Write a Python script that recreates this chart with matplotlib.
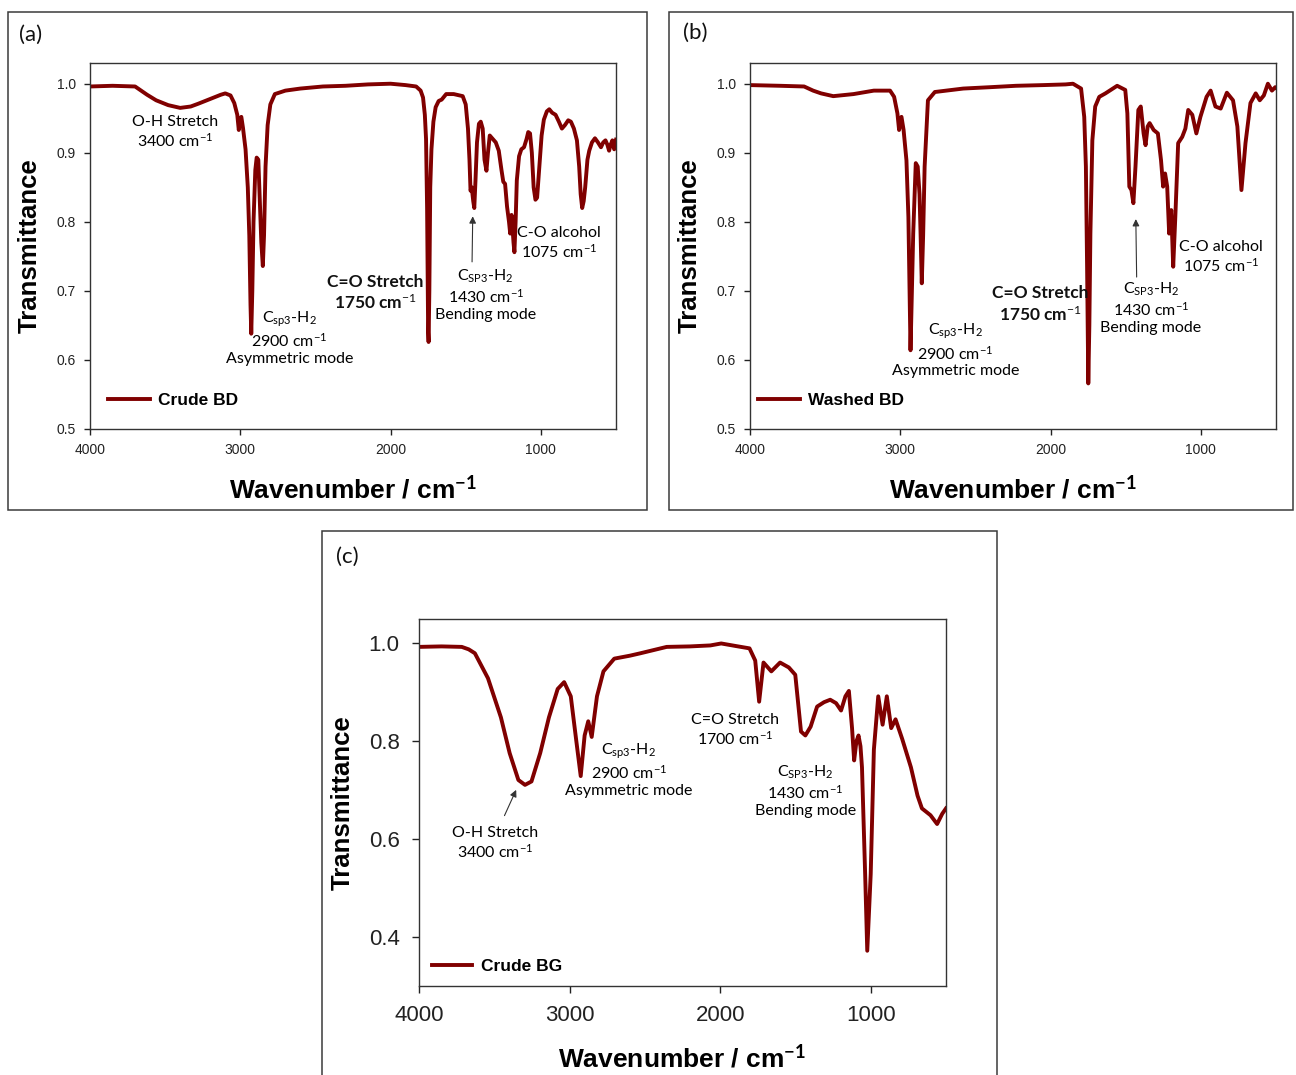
import matplotlib
matplotlib.use('Agg')
import matplotlib.pyplot as plt
from matplotlib.patches import Rectangle

# ---------------- data ----------------
wn_crude_bd = [4000, 3850, 3700, 3660, 3620, 3560, 3480, 3400, 3330, 3280, 3200, 3130, 3100, 3065, 3040, 3020,
               3010, 3000, 2993, 2982, 2965, 2950, 2940, 2932, 2927, 2920, 2912, 2900, 2891, 2880, 2870, 2860,
               2850, 2842, 2832, 2818, 2800, 2770, 2700, 2600, 2450, 2300, 2150, 2000, 1900, 1830, 1800, 1784,
               1772, 1764, 1757, 1750, 1747, 1742, 1736, 1728, 1715, 1700, 1680, 1660, 1630, 1580, 1520, 1500,
               1485, 1475, 1468, 1460, 1450, 1443, 1435, 1425, 1412, 1400, 1387, 1375, 1362, 1352, 1340, 1320,
               1300, 1280, 1262, 1250, 1238, 1225, 1212, 1204, 1195, 1188, 1182, 1176, 1168, 1160, 1145, 1130,
               1112, 1095, 1084, 1072, 1060, 1048, 1036, 1025, 1010, 995, 980, 960, 944, 925, 902, 880, 860, 840,
               818, 800, 780, 760, 745, 735, 725, 715, 705, 690, 678, 660, 640, 620, 600, 585, 570, 558, 546, 535,
               524, 512, 505, 500]
t_crude_bd = [0.996, 0.997, 0.996, 0.990, 0.984, 0.976, 0.969, 0.965, 0.967, 0.971, 0.978, 0.984, 0.986, 0.983,
              0.972, 0.955, 0.933, 0.950, 0.952, 0.936, 0.905, 0.850, 0.780, 0.680, 0.638, 0.700, 0.800, 0.875,
              0.893, 0.890, 0.830, 0.770, 0.736, 0.780, 0.880, 0.940, 0.970, 0.985, 0.990, 0.993, 0.996, 0.997,
              0.999, 1.000, 0.998, 0.996, 0.990, 0.980, 0.955, 0.920, 0.820, 0.640, 0.626, 0.700, 0.850, 0.905,
              0.945, 0.966, 0.975, 0.977, 0.985, 0.985, 0.982, 0.970, 0.935, 0.890, 0.845, 0.850, 0.830, 0.820,
              0.860, 0.915, 0.942, 0.945, 0.935, 0.890, 0.874, 0.900, 0.925, 0.920, 0.915, 0.903, 0.875, 0.858,
              0.855, 0.822, 0.800, 0.783, 0.810, 0.790, 0.770, 0.756, 0.800, 0.860, 0.895, 0.905, 0.908, 0.920,
              0.930, 0.928, 0.900, 0.850, 0.832, 0.835, 0.880, 0.925, 0.948, 0.960, 0.963, 0.958, 0.955, 0.945,
              0.935, 0.940, 0.947, 0.945, 0.935, 0.918, 0.880, 0.840, 0.820, 0.830, 0.850, 0.890, 0.903, 0.915,
              0.921, 0.915, 0.908, 0.915, 0.918, 0.912, 0.903, 0.912, 0.918, 0.905, 0.915, 0.919]

wn_washed_bd = [4000, 3800, 3640, 3580, 3527, 3446, 3311, 3176, 3068, 3041, 3019, 3008, 2992, 2978, 2959, 2946,
                2932, 2928, 2914, 2897, 2884, 2872, 2865, 2857, 2848, 2838, 2816, 2770, 2581, 2400, 2230, 2050,
                1900, 1851, 1797, 1776, 1765, 1757, 1749, 1742, 1735, 1722, 1703, 1676, 1635, 1557, 1503, 1489,
                1476, 1462, 1449, 1435, 1416, 1400, 1381, 1368, 1354, 1341, 1314, 1286, 1265, 1251, 1238, 1224,
                1211, 1197, 1184, 1170, 1151, 1124, 1103, 1084, 1057, 1030, 1003, 962, 935, 903, 868, 827, 786,
                757, 730, 703, 670, 635, 608, 581, 554, 527, 505, 500]
t_washed_bd = [0.998, 0.997, 0.996, 0.990, 0.986, 0.982, 0.985, 0.990, 0.990, 0.981, 0.957, 0.933, 0.952, 0.933,
               0.889, 0.807, 0.614, 0.650, 0.783, 0.885, 0.880, 0.840, 0.783, 0.711, 0.780, 0.880, 0.976, 0.988,
               0.993, 0.995, 0.997, 0.998, 0.999, 1.000, 0.993, 0.952, 0.880, 0.735, 0.566, 0.650, 0.783, 0.918,
               0.967, 0.981, 0.986, 0.997, 0.991, 0.957, 0.851, 0.846, 0.827, 0.880, 0.962, 0.967, 0.928, 0.911,
               0.938, 0.943, 0.933, 0.928, 0.889, 0.851, 0.870, 0.851, 0.783, 0.817, 0.735, 0.807, 0.914, 0.923,
               0.935, 0.962, 0.955, 0.928, 0.952, 0.981, 0.990, 0.967, 0.964, 0.987, 0.976, 0.938, 0.846, 0.914,
               0.972, 0.986, 0.976, 0.983, 1.000, 0.990, 0.995, 0.994]

wn_crude_bg = [4000, 3850, 3716, 3670, 3629, 3542, 3456, 3398, 3340, 3296, 3253, 3195, 3137, 3079, 3036, 2992,
               2957, 2926, 2900, 2876, 2853, 2818, 2775, 2703, 2600, 2529, 2355, 2200, 2065, 1993, 1900, 1805,
               1767, 1741, 1712, 1660, 1602, 1544, 1501, 1463, 1434, 1399, 1356, 1310, 1269, 1230, 1197, 1168,
               1145, 1124, 1110, 1095, 1081, 1068, 1058, 1037, 1023, 1000, 979, 950, 921, 893, 864, 835, 791,
               733, 689, 660, 603, 559, 525, 500]
t_crude_bg = [0.993, 0.994, 0.993, 0.988, 0.980, 0.929, 0.849, 0.776, 0.721, 0.711, 0.718, 0.776, 0.849, 0.907,
              0.921, 0.892, 0.805, 0.729, 0.812, 0.841, 0.809, 0.892, 0.943, 0.969, 0.975, 0.980, 0.993, 0.994,
              0.996, 1.000, 0.995, 0.990, 0.965, 0.881, 0.961, 0.943, 0.961, 0.951, 0.936, 0.820, 0.812, 0.830,
              0.871, 0.880, 0.885, 0.878, 0.863, 0.892, 0.903, 0.827, 0.761, 0.800, 0.812, 0.790, 0.747, 0.529,
              0.372, 0.529, 0.783, 0.892, 0.834, 0.892, 0.827, 0.845, 0.805, 0.747, 0.689, 0.663, 0.649, 0.631,
              0.652, 0.663]

series_names = ["Crude BD", "Washed BD", "Crude BG"]
panel_tags = ["(a)", "(b)", "(c)"]
xticks = [4000, 3000, 2000, 1000]
yticks_ab = [0.5, 0.6, 0.7, 0.8, 0.9, 1.0]
yticks_c = [0.4, 0.6, 0.8, 1.0]

# ---------------- style ----------------
LINE = '#800000'
plt.rcParams['font.family'] = ['Liberation Sans', 'DejaVu Sans']
plt.rcParams['mathtext.fontset'] = 'custom'
plt.rcParams['mathtext.rm'] = 'Lato'
plt.rcParams['mathtext.it'] = 'Lato:italic'
plt.rcParams['mathtext.bf'] = 'Lato:bold'
ANN = ['Lato', 'DejaVu Sans']

W, H = 1296, 1075
fig = plt.figure(figsize=(W / 100, H / 100), dpi=100)


def fr(x0, y0, x1, y1):
    return [x0 / W, 1 - y1 / H, (x1 - x0) / W, (y1 - y0) / H]


# outer frames
for (x0, y0, x1, y1) in [(8, 12, 647, 510), (669, 12, 1293, 510), (322, 531, 997, 1085)]:
    fig.patches.append(Rectangle((x0 / W, 1 - y1 / H), (x1 - x0) / W, (y1 - y0) / H,
                                 transform=fig.transFigure, fill=False, ec='#3a3a3a', lw=1.1))

ax_a = fig.add_axes(fr(90, 63, 616, 429))
ax_b = fig.add_axes(fr(750, 63, 1276, 429))
ax_c = fig.add_axes(fr(419, 619, 946, 986))


def style(ax, yt, ylim, tsize, labsize, ylab_x, xlab_y, leg_xy, leg_size, hlen):
    ax.set_xlim(4000, 500)
    ax.set_ylim(*ylim)
    ax.set_xticks(xticks)
    ax.set_xticklabels([str(v) for v in xticks])
    ax.set_yticks(yt)
    ax.set_yticklabels(['%.1f' % v for v in yt])
    ax.tick_params(direction='out', length=4, width=1, labelsize=tsize, pad=6, colors='#222222')
    for s in ax.spines.values():
        s.set_linewidth(1.0)
        s.set_color('#333333')
    ax.set_ylabel('Transmittance', fontsize=labsize, fontweight='bold', va='center')
    ax.yaxis.set_label_coords(ylab_x, 0.5)
    ax.set_xlabel(r'Wavenumber / cm$^{\mathbf{-1}}$', fontsize=labsize + 0.5, fontweight='bold', va='center')
    ax.xaxis.set_label_coords(0.5, xlab_y)
    leg = ax.legend(loc='center left', bbox_to_anchor=leg_xy, frameon=False, borderpad=0, borderaxespad=0,
                    handlelength=hlen, handletextpad=0.5, prop={'weight': 'bold', 'size': leg_size})
    return leg


ax_a.plot(wn_crude_bd, t_crude_bd, color=LINE, lw=2.8, label=series_names[0], solid_joinstyle='round')
ax_b.plot(wn_washed_bd, t_washed_bd, color=LINE, lw=2.8, label=series_names[1], solid_joinstyle='round')
ax_c.plot(wn_crude_bg, t_crude_bg, color=LINE, lw=2.8, label=series_names[2], solid_joinstyle='round')

style(ax_a, yticks_ab, (0.5, 1.03), 10, 18.5, -0.114, -0.164, (0.034, 0.077), 12.5, 2.4)
style(ax_b, yticks_ab, (0.5, 1.03), 10, 18.5, -0.114, -0.164, (0.015, 0.079), 12.5, 2.4)
style(ax_c, yticks_c, (0.3, 1.05), 16, 18.5, -0.144, -0.196, (0.025, 0.052), 12.5, 2.3)
ax_c.tick_params(length=5, pad=9)

csp = r'C$_{\mathrm{sp3}}$-H$_{\mathrm{2}}$'
cSP = r'C$_{\mathrm{SP3}}$-H$_{\mathrm{2}}$'
cm = r' cm$^{\mathrm{-1}}$'

# annotations panel (a)
kw = dict(ha='center', va='center', family=ANN, fontsize=11.5, color='#000000', linespacing=1.2)
ax_a.text(3433, 0.930, 'O-H Stretch\n3400' + cm, **kw)
ax_a.text(2673, 0.632, csp + '\n2900' + cm + '\nAsymmetric mode', **kw)
ax_a.text(2100, 0.697, 'C=O Stretch\n1750' + cm, ha='center', va='center', family=ANN, fontsize=12.5,
          fontweight='bold', color='#111111', linespacing=1.2)
ax_a.text(1367, 0.694, cSP + '\n1430' + cm + '\nBending mode', **kw)
ax_a.text(880, 0.769, 'C-O alcohol\n1075' + cm, **kw)
ax_a.annotate('', xy=(1453, 0.812), xytext=(1458, 0.738),
              arrowprops=dict(arrowstyle='-|>', color='#333333', lw=0.8, mutation_scale=10))

# annotations panel (b)
ax_b.text(2633, 0.614, csp + '\n2900' + cm + '\nAsymmetric mode', **kw)
ax_b.text(2067, 0.680, 'C=O Stretch\n1750' + cm, ha='center', va='center', family=ANN, fontsize=12.5,
          fontweight='bold', color='#111111', linespacing=1.2)
ax_b.text(1333, 0.675, cSP + '\n1430' + cm + '\nBending mode', **kw)
ax_b.text(867, 0.749, 'C-O alcohol\n1075' + cm, **kw)
ax_b.annotate('', xy=(1433, 0.808), xytext=(1427, 0.716),
              arrowprops=dict(arrowstyle='-|>', color='#333333', lw=0.8, mutation_scale=10))

# annotations panel (c)
ax_c.text(3493, 0.591, 'O-H Stretch\n3400' + cm, **kw)
ax_c.text(2607, 0.742, csp + '\n2900' + cm + '\nAsymmetric mode', **kw)
ax_c.text(1900, 0.822, 'C=O Stretch\n1700' + cm, **kw)
ax_c.text(1433, 0.699, cSP + '\n1430' + cm + '\nBending mode', **kw)
ax_c.annotate('', xy=(3347, 0.706), xytext=(3440, 0.643),
              arrowprops=dict(arrowstyle='-|>', color='#333333', lw=0.8, mutation_scale=10))

# panel tags
for tag, (px, py) in zip(panel_tags, [(31, 35), (695, 33), (347, 557)]):
    fig.text(px / W, 1 - py / H, tag, ha='center', va='center', fontsize=16, family=ANN, color='#111111')

fig.savefig('out.png', dpi=100)
